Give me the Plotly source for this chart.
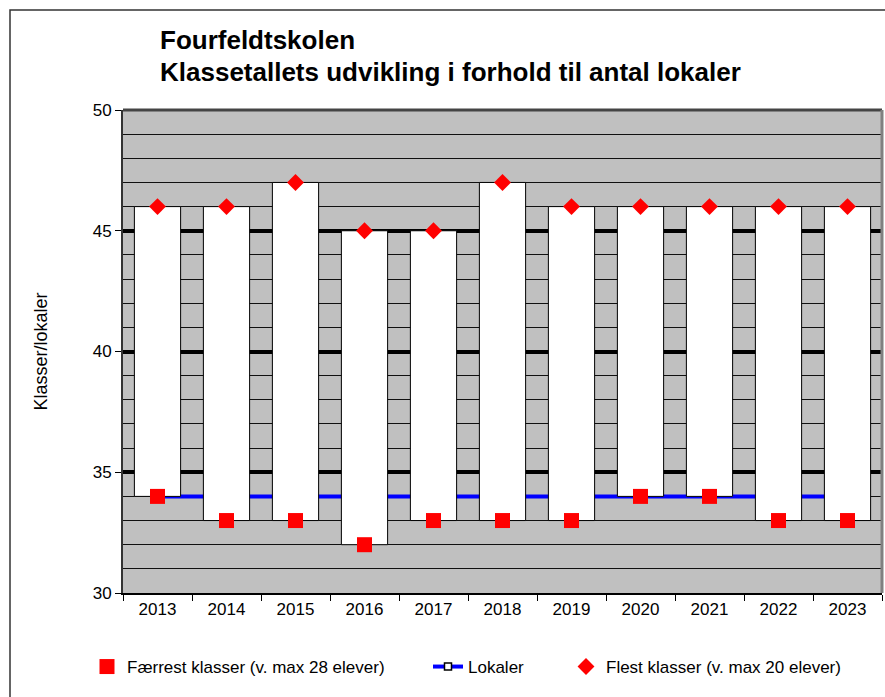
import plotly.graph_objects as go

years = ["2013", "2014", "2015", "2016", "2017", "2018", "2019", "2020", "2021", "2022", "2023"]
faerrest = [34, 33, 33, 32, 33, 33, 33, 34, 34, 33, 33]
flest = [46, 46, 47, 45, 45, 47, 46, 46, 46, 46, 46]
lokaler = [34, 34, 34, 34, 34, 34, 34, 34, 34, 34, 34]

title1 = "Fourfeldtskolen"
title2 = "Klassetallets udvikling i forhold til antal lokaler"
ytitle = "Klasser/lokaler"
name_f = "Færrest klasser (v. max 28 elever)"
name_l = "Lokaler"
name_m = "Flest klasser (v. max 20 elever)"

FONT = "Liberation Sans, Arial, sans-serif"
W, H = 885, 697
L, R, T, B = 123, 3, 110, 104
pw, ph = W - L - R, H - T - B


def px_x(p):
    return (p - L) / pw


def px_y(p):
    return (H - B - p) / ph


fig = go.Figure()

# base subplot: Lokaler line (hidden behind bars)
fig.add_trace(go.Scatter(
    x=years, y=lokaler, name=name_l, mode="lines+markers",
    line=dict(color="#0000FF", width=4),
    marker=dict(symbol="square", size=7, color="white", line=dict(color="black", width=1.5)),
    legend="legend2", xaxis="x", yaxis="y"))

# overlay subplot: floating bars + markers
span = [b - a for a, b in zip(faerrest, flest)]
fig.add_trace(go.Bar(
    x=years, y=span, base=faerrest, width=0.67, showlegend=False,
    marker=dict(color="white", line=dict(color="black", width=1)),
    xaxis="x2", yaxis="y2"))
fig.add_trace(go.Scatter(
    x=years, y=faerrest, name=name_f, mode="markers",
    marker=dict(symbol="square", size=15, color="#FF0000"),
    legend="legend", xaxis="x2", yaxis="y2"))
fig.add_trace(go.Scatter(
    x=years, y=flest, name=name_m, mode="markers",
    marker=dict(symbol="diamond", size=13, color="#FF0000"),
    legend="legend3", xaxis="x2", yaxis="y2"))

legend_common = dict(orientation="h", yanchor="middle", xanchor="left",
                     font=dict(family=FONT, size=17, color="black"),
                     bgcolor="rgba(0,0,0,0)", y=px_y(667))

fig.update_layout(
    width=W, height=H,
    margin=dict(l=L, r=R, t=T, b=B),
    paper_bgcolor="white", plot_bgcolor="#C0C0C0",
    font=dict(family=FONT, color="black"),
    barmode="overlay",
    legend=dict(x=px_x(87), **legend_common),
    legend2=dict(x=px_x(428), **legend_common),
    legend3=dict(x=px_x(566), **legend_common),
    xaxis=dict(type="category", categoryorder="array", categoryarray=years,
               range=[-0.5, 10.5], showgrid=False, tickson="boundaries",
               ticks="outside", ticklen=6, tickcolor="black", tickwidth=1,
               showline=True, linecolor="black", linewidth=2,
               tickfont=dict(family=FONT, size=17, color="black")),
    yaxis=dict(range=[30, 50], tickvals=[30, 35, 40, 45, 50],
               showgrid=True, gridcolor="black", gridwidth=4,
               minor=dict(dtick=1, showgrid=True, gridcolor="#101010", gridwidth=1),
               ticks="outside", ticklen=6, tickcolor="black",
               showline=True, linecolor="#333333", linewidth=2, mirror=False,
               zeroline=False,
               tickfont=dict(family=FONT, size=17, color="black"),
               title=dict(text=ytitle, font=dict(family=FONT, size=18, color="black"), standoff=40)),
    xaxis2=dict(type="category", categoryorder="array", categoryarray=years,
                overlaying="x", matches="x", visible=False),
    yaxis2=dict(overlaying="y", matches="y", visible=False),
    shapes=[
        dict(type="rect", xref="paper", yref="paper", x0=px_x(10), x1=1.3,
             y0=-0.6, y1=px_y(10), line=dict(color="#333333", width=1.5), layer="below"),
        dict(type="line", xref="paper", yref="paper", x0=0, x1=1, y0=1, y1=1,
             line=dict(color="#444444", width=3)),
        dict(type="line", xref="paper", yref="paper", x0=1, x1=1, y0=0, y1=1,
             line=dict(color="#808080", width=3)),
    ],
    annotations=[
        dict(text="<b>" + title1 + "</b>", xref="paper", yref="paper",
             x=px_x(158), y=px_y(40), xanchor="left", yanchor="middle", showarrow=False,
             font=dict(family=FONT, size=26, color="black")),
        dict(text="<b>" + title2 + "</b>", xref="paper", yref="paper",
             x=px_x(158), y=px_y(72), xanchor="left", yanchor="middle", showarrow=False,
             font=dict(family=FONT, size=26, color="black")),
    ],
)

fig.write_html("out.html", config={"displayModeBar": False},
               post_script="document.body.style.margin='0';")
